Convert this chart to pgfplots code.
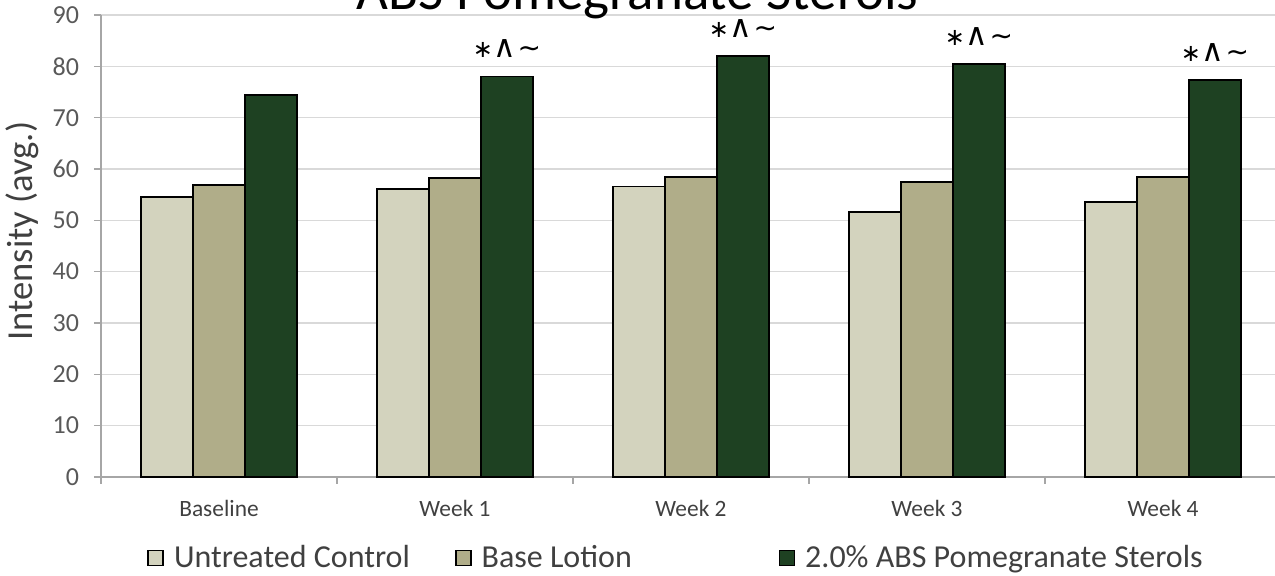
\documentclass[border=0pt]{standalone}
\usepackage{pgfplots}
\pgfplotsset{compat=1.18}
\usepackage{fontspec}
\setmainfont{Carlito}
\newfontfamily\symfont{DejaVu Sans}
\definecolor{cLight}{HTML}{D3D3BE}
\definecolor{cMid}{HTML}{B0AD89}
\definecolor{cDark}{HTML}{1E4122}
\definecolor{gridc}{HTML}{D9D9D9}
\definecolor{axc}{HTML}{A6A6A6}
\definecolor{txt}{HTML}{595959}
\definecolor{txtd}{HTML}{404040}
\newcommand{\sig}{{\symfont\fontsize{12}{14}\selectfont ∗\kern0.5pt{\fontsize{15.5}{16}\selectfont ∧}\kern0.5pt{\fontsize{14}{16}\selectfont ∼}}}
\begin{document}
\begin{tikzpicture}
\begin{axis}[
  name=ax,
  scale only axis, width=590pt, height=231pt,
  clip=false,
  xmin=-0.5, xmax=4.5, ymin=0, ymax=90,
  ytick={0,10,...,90},
  xtick={0,1,2,3,4},
  xticklabels={Baseline,Week 1,Week 2,Week 3,Week 4},
  minor xtick={-0.5,0.5,1.5,2.5,3.5,4.5},
  major x tick style={draw=none},
  tick align=outside,
  major tick length=3.5pt, minor tick length=3.5pt,
  ymajorgrids, grid style={gridc, line width=0.6pt},
  axis x line*=bottom, axis y line*=left,
  axis line style={axc, line width=0.8pt, -},
  tick style={axc, line width=0.8pt},
  /pgf/number format/assume math mode=true,
  yticklabel style={font=\fontsize{13}{15}\selectfont, text=txt, xshift=-4pt},
  xticklabel style={font=\fontsize{11.7}{14}\selectfont, text=txtd, yshift=-4.5pt},
  legend style={at={(0.039,-0.175)}, anchor=west, draw=none, fill=none,
    legend columns=3, font=\fontsize{16}{19}\selectfont, text=txtd,
    inner sep=0pt, nodes={inner sep=0pt},
    /tikz/every odd column/.append style={column sep=5pt},
    /tikz/every even column/.append style={column sep=0pt}},
  legend image code/.code={\draw[#1, line width=0.8pt] (0pt,-3.75pt) rectangle (7.5pt,3.75pt);},
]
\addlegendimage{fill=cLight, draw=black}
\addlegendentry{\makebox[140.5pt][l]{Untreated Control}}
\addlegendimage{fill=cMid, draw=black}
\addlegendentry{\makebox[148.5pt][l]{Base Lotion}}
\addlegendimage{fill=cDark, draw=black}
\addlegendentry{2.0\% ABS Pomegranate Sterols}

\addplot[ybar, bar width=0.22, bar shift=-0.22, fill=cLight, draw=black, line width=0.9pt, forget plot]
  coordinates {(0,54.5) (1,56.1) (2,56.6) (3,51.6) (4,53.6)};
\addplot[ybar, bar width=0.22, bar shift=0, fill=cMid, draw=black, line width=0.9pt, forget plot]
  coordinates {(0,56.9) (1,58.3) (2,58.4) (3,57.4) (4,58.4)};
\addplot[ybar, bar width=0.22, bar shift=0.22, fill=cDark, draw=black, line width=0.9pt, forget plot]
  coordinates {(0,74.4) (1,78.0) (2,82.0) (3,80.4) (4,77.3)};

\node[anchor=base, inner sep=0pt] at ([yshift=9.5pt]axis cs:1.22,78.0) {\sig};
\node[anchor=base, inner sep=0pt] at ([yshift=9.5pt]axis cs:2.22,82.0) {\sig};
\node[anchor=base, inner sep=0pt] at ([yshift=9.5pt]axis cs:3.22,80.4) {\sig};
\node[anchor=base, inner sep=0pt] at ([yshift=9.5pt]axis cs:4.22,77.3) {\sig};

\node[font=\fontsize{27.5}{32}\selectfont, anchor=base, inner sep=0pt] at ([yshift=2.5pt]rel axis cs:0.4547,1) {ABS Pomegranate Sterols};
\node[rotate=90, font=\fontsize{18.3}{22}\selectfont, text=txtd, inner sep=0pt] at ([xshift=-39.5pt]rel axis cs:0,0.532) {Intensity (avg.)};
\end{axis}
\pgfresetboundingbox
\path ([xshift=-50.5pt,yshift=-49.5pt]ax.south west) rectangle ([xshift=-3pt,yshift=7.5pt]ax.north east);
\end{tikzpicture}
\end{document}
